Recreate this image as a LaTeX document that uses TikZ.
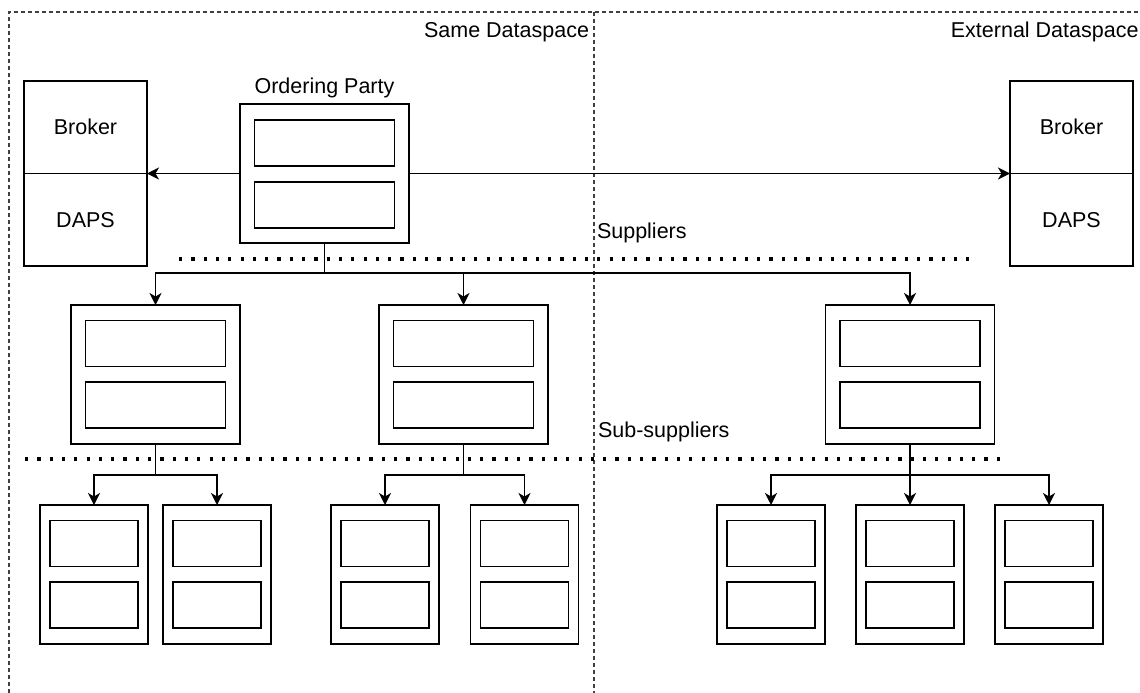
\documentclass[tikz,border=0pt]{standalone}
\usepackage{fontspec}
\setmainfont{Liberation Sans}
\usetikzlibrary{arrows.meta}
\begin{document}
\begin{tikzpicture}[x=1pt,y=-1pt,
  font=\fontsize{21.5}{25}\selectfont,
  every node/.style={inner sep=0pt, outer sep=0pt},
  outerbox/.style={draw, line width=1.7pt, minimum width=169pt, minimum height=139pt},
  innerbox/.style={draw, line width=1.9pt, minimum width=140pt, minimum height=46pt},
  subbox/.style={draw, line width=1.7pt, minimum width=108pt, minimum height=139pt},
  subinner/.style={draw, line width=1.9pt, minimum width=88pt, minimum height=46pt},
  half/.style={draw, line width=1.7pt, minimum width=123pt, minimum height=92.5pt},
  arr/.style={line width=1.7pt, -{Stealth[length=12pt,width=12pt,inset=3.5pt]}},
  sep/.style={line width=3.2pt, dash pattern=on 3.2pt off 9.1pt},
  region/.style={line width=1.2pt, dash pattern=on 4pt off 3pt, black!75}
]
\clip (0,0) rectangle (1140,693);
\fill[white] (0,0) rectangle (1140,693);

% regions
\draw[region] (9,700) -- (9,12) -- (1150,12);
\draw[region] (594,12) -- (594,700);
\node[anchor=mid east] (same) at (589,35) {Same Dataspace};
\node[anchor=mid east] (ext) at (1138.5,35) {External Dataspace};

% broker / daps
\node[half, anchor=north west] (bL) at (24,81) {Broker};
\node[half, anchor=north west] (dL) at (24,173.5) {DAPS};
\node[half, anchor=north west] (bR) at (1010,81) {Broker};
\node[half, anchor=north west] (dR) at (1010,173.5) {DAPS};

% ordering party
\node[outerbox, anchor=north west] (op) at (240,104) {};
\node[innerbox, anchor=north] (opa) at ([yshift=-16pt]op.north) {};
\node[innerbox, anchor=north] (opb) at ([yshift=-78pt]op.north) {};
\node[anchor=mid] (opl) at (324.5,91) {Ordering Party};

\draw[arr] (op.west) -- (bL.south east);
\draw[arr] (op.east) -- (bR.south west);

% separators
\draw[sep] (179,259) -- (972,259);
\draw[sep] (25,459) -- (1002,459);
\node[anchor=mid west] (supl) at (597,236) {Suppliers};
\node[anchor=mid west] (subl) at (598,435) {Sub-suppliers};

% suppliers
\foreach \n/\x in {s1/155.5, s2/463.5, s3/910} {
  \node[outerbox, anchor=north] (\n) at (\x,305) {};
  \node[innerbox, anchor=north] (\n a) at ([yshift=-15.5pt]\n.north) {};
  \node[innerbox, anchor=north] (\n b) at ([yshift=-77pt]\n.north) {};
}

% sub-suppliers
\foreach \n/\x in {t1/94, t2/217, t3/385, t4/524.5, t5/771, t6/910, t7/1049} {
  \node[subbox, anchor=north] (\n) at (\x,505) {};
  \node[subinner, anchor=north] (\n a) at ([yshift=-15.5pt]\n.north) {};
  \node[subinner, anchor=north] (\n b) at ([yshift=-77pt]\n.north) {};
}

% connectors
\draw[arr] (op.south) -- ++(0,30) -| (s1.north);
\draw[arr] (op.south) -- ++(0,30) -| (s2.north);
\draw[arr] (op.south) -- ++(0,30) -| (s3.north);

\draw[arr] (s1.south) -- ++(0,31) -| (t1.north);
\draw[arr] (s1.south) -- ++(0,31) -| (t2.north);
\draw[arr] (s2.south) -- ++(0,31) -| (t3.north);
\draw[arr] (s2.south) -- ++(0,31) -| (t4.north);
\draw[arr] (s3.south) -- ++(0,31) -| (t5.north);
\draw[arr] (s3.south) -- (t6.north);
\draw[arr] (s3.south) -- ++(0,31) -| (t7.north);
\end{tikzpicture}
\end{document}
